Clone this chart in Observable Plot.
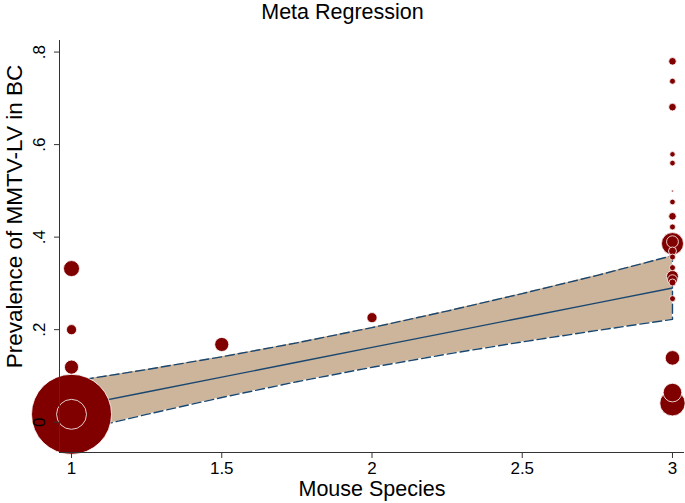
<!DOCTYPE html>
<html><head><meta charset="utf-8">
<script src="https://cdn.jsdelivr.net/npm/d3@7"></script>
<script src="https://cdn.jsdelivr.net/npm/@observablehq/plot@0.6"></script>
<style>
body{margin:0;background:#fff;font-family:"Liberation Sans",Arial,sans-serif;}
#title{width:685px;height:26px;line-height:24px;text-align:center;font-size:21.5px;color:#000;}
#chart svg{display:block;}
</style></head><body>
<div id="title">Meta Regression</div>
<div id="chart"></div>
<script>
const xTicks = [1, 1.5, 2, 2.5, 3];
const xTickLabels = ["1", "1.5", "2", "2.5", "3"];
const yTicks = [0, 0.2, 0.4, 0.6, 0.8];
const yTickLabels = ["0", ".2", ".4", ".6", ".8"];
const xTitle = "Mouse Species";
const yTitle = "Prevalence of MMTV-LV in BC";

// studies: mouse species (x), prevalence (y), study weight
const species = [1, 1, 1, 1, 1, 1.5, 2,
  3, 3, 3, 3, 3, 3, 3, 3, 3, 3, 3, 3, 3, 3, 3, 3, 3, 3, 3, 3, 3];
const prevalence = [0.017, 0.017, 0.119, 0.200, 0.332, 0.168, 0.226,
  0.780, 0.737, 0.681, 0.579, 0.560, 0.4995, 0.476, 0.445, 0.422,
  0.386, 0.390, 0.370, 0.357, 0.334, 0.315, 0.308, 0.302, 0.267,
  0.139, 0.064, 0.041];
const weight = [100, 14, 3.1, 1.6, 4, 3.1, 1.6,
  0.9, 0.56, 0.9, 0.46, 0.5, 0.06, 0.5, 0.9, 0.56,
  7.6, 2.2, 1, 0.56, 0.56, 2.2, 1.5, 0.77, 0.56,
  3.3, 5.4, 10];

// fitted regression line and 95% CI
const fitX = [1, 1.25, 1.5, 1.75, 2, 2.25, 2.5, 2.75, 3];
const fitY = [0.0332, 0.0653, 0.0974, 0.1295, 0.1616, 0.1937, 0.2258, 0.2579, 0.290];
const ciUpper = [0.088, 0.1138, 0.1414, 0.1715, 0.2045, 0.2402, 0.2780, 0.3174, 0.3600];
const ciLower = [-0.0218, 0.0168, 0.0534, 0.0875, 0.1187, 0.1472, 0.1736, 0.1984, 0.2222];

const studies = species.map((s, i) => ({x: s, y: prevalence[i], w: weight[i]}))
  .sort((a, b) => b.w - a.w);
const band = fitX.map((x, i) => ({x, fit: fitY[i], lo: ciLower[i], hi: ciUpper[i]}));
const outline = [
  ...band.map(d => ({x: d.x, y: d.hi})),
  ...band.slice().reverse().map(d => ({x: d.x, y: d.lo})),
  {x: band[0].x, y: band[0].hi}
];

const navy = "#1a476f";
const axisColor = "#333";
const xDom = [0.96, 3.04];
const yDom = [-0.0655, 0.825];

const chart = Plot.plot({
  width: 685,
  height: 477,
  marginTop: 14,
  marginLeft: 59,
  marginRight: 1,
  marginBottom: 51,
  style: {fontFamily: '"Liberation Sans",Arial,sans-serif', fontSize: "17px", color: "#000", background: "#fff"},
  x: {domain: xDom},
  y: {domain: yDom},
  r: {type: "sqrt", domain: [0, 100], range: [0, 40]},
  marks: [
    Plot.areaY(band, {x: "x", y1: "lo", y2: "hi", fill: "#cdb59c", curve: "linear"}),
    Plot.line(outline, {x: "x", y: "y", stroke: navy, strokeWidth: 1.4, strokeDasharray: "9,4"}),
    Plot.line(band, {x: "x", y: "fit", stroke: navy, strokeWidth: 1.4}),
    Plot.dot(studies, {x: "x", y: "y", r: "w", fill: "#800000", stroke: "#fff", strokeWidth: 0.8}),
    Plot.ruleX([xDom[0]], {y1: yDom[0], y2: yDom[1], stroke: axisColor, strokeWidth: 1}),
    Plot.ruleY([yDom[0]], {x1: xDom[0], x2: xDom[1], stroke: axisColor, strokeWidth: 1}),
    Plot.axisX(xTicks, {anchor: "bottom", tickSize: 6, tickPadding: 3, stroke: axisColor,
      tickFormat: (d) => xTickLabels[xTicks.indexOf(d)], fontSize: 17, label: null}),
    Plot.axisY(yTicks, {anchor: "left", tickSize: 5, tickPadding: 10, stroke: axisColor,
      tickFormat: (d) => yTickLabels[yTicks.indexOf(d)], tickRotate: -90, fontSize: 17, label: null}),
    Plot.text([xTitle], {frameAnchor: "bottom", textAnchor: "middle", lineAnchor: "middle", dy: 37, fontSize: 21.5, fill: "#000"}),
    Plot.text([yTitle], {frameAnchor: "left", textAnchor: "middle", lineAnchor: "middle", dx: -45, dy: -30, rotate: -90, fontSize: 22.5, fill: "#000"})
  ]
});
document.getElementById("chart").appendChild(chart);
</script>
</body></html>
